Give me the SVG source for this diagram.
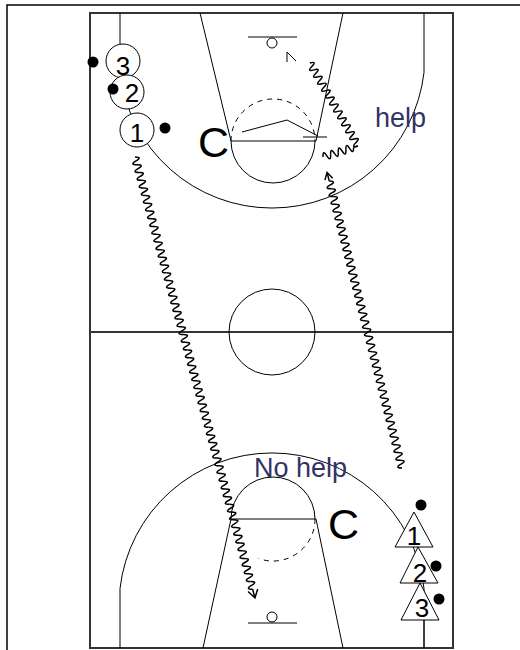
<svg xmlns="http://www.w3.org/2000/svg" width="520" height="650" viewBox="0 0 520 650">
<style>
.ln{fill:none;stroke:#000;stroke-width:1}
.bd{fill:none;stroke:#333;stroke-width:2}
.ds{fill:none;stroke:#000;stroke-width:1;stroke-dasharray:5 5}
.wv{fill:none;stroke:#000;stroke-width:1.5}
.pl{fill:#fff;stroke:#000;stroke-width:1}
.ball{fill:#000}
.num{font-family:"Liberation Sans",Arial,sans-serif;font-size:26px;fill:#000;text-anchor:middle}
.lbl{font-family:"Liberation Sans",Arial,sans-serif;font-size:27px;fill:#333366}
.c{font-family:"Liberation Sans",Arial,sans-serif;font-size:43px;fill:#000}
</style>
<defs>
<path id="w40" d="M0 0q2 -7.5 4 0t4 0t4 0t4 0t4 0t4 0t4 0t4 0t4 0t4 0"/>
<path id="w8" d="M0 0q2 -7.5 4 0t4 0"/>
</defs>
<rect width="520" height="650" fill="#fff"/>
<path d="M7 650V5H520" fill="none" stroke="#000" stroke-width="1.5"/>
<g id="court">
<rect class="bd" x="90" y="13" width="363" height="635"/>
<line class="bd" x1="90" y1="332" x2="453" y2="332"/>
<circle class="ln" cx="272" cy="332" r="43"/>
<path class="ln" d="M200 13L231 141M343 13L316 141M231 141H316"/>
<path class="ln" d="M231 141A42 42 0 0 0 315 141"/>
<path class="ds" d="M231 141A42 42 0 0 1 315 141"/>
<path class="ln" d="M120 13V72.5A153 153 0 0 0 424 72.5V13"/>
<path class="ln" d="M248 37H297"/>
<circle class="ln" cx="272" cy="43" r="5"/>
<path class="ln" d="M203 648L231 519M343 648L316 519M231 519H316"/>
<path class="ln" d="M231 519A42 42 0 0 1 315 519"/>
<path class="ds" d="M315 519A42 42 0 0 1 258.6 558.5"/>
<path class="ln" d="M120 648V588.5A153 153 0 0 1 424 588.5V648"/>
<path class="ln" d="M248 623H297"/>
<circle class="ln" cx="272" cy="617" r="5"/>
</g>
<g id="connectors">
<path class="ln" d="M242 132L287 120L318 136M303 137H327"/>
<g class="wv" transform="translate(135 157) rotate(74.78)">
<use href="#w40"/><use href="#w40" x="40"/><use href="#w40" x="80"/><use href="#w40" x="120"/><use href="#w40" x="160"/><use href="#w40" x="200"/><use href="#w40" x="240"/><use href="#w40" x="280"/><use href="#w40" x="320"/><use href="#w40" x="360"/><use href="#w40" x="400"/><use href="#w8" x="440"/>
<path d="M448 0H457M449 -5L457 0L449 5"/>
</g>
<g class="wv" transform="translate(402 468) rotate(-104.22)">
<use href="#w40"/><use href="#w40" x="40"/><use href="#w40" x="80"/><use href="#w40" x="120"/><use href="#w40" x="160"/><use href="#w40" x="200"/><use href="#w40" x="240"/><use href="#w8" x="280"/><use href="#w8" x="288"/>
<path d="M296 0H305M298 -4L305 0L298 4"/>
</g>
<g class="wv" transform="translate(323 157) rotate(-17.45)">
<use href="#w8"/><use href="#w8" x="8"/><use href="#w8" x="16"/><use href="#w8" x="24"/>
<path d="M32 0H36.7"/>
</g>
<g class="wv" transform="translate(358 146) rotate(-120.1)">
<use href="#w40"/><use href="#w40" x="40"/><use href="#w8" x="80"/><use href="#w8" x="88"/>
</g>
<path class="ln" d="M287 62L287 52L296 61"/>
</g>
<g id="o3"><circle class="pl" cx="123" cy="61" r="17"/><circle class="ball" cx="93" cy="62" r="5.5"/><text class="num" x="123" y="75">3</text></g>
<g id="o2"><circle class="pl" cx="127" cy="92" r="17"/><circle class="ball" cx="113" cy="89" r="5.5"/><text class="num" x="132" y="102">2</text></g>
<g id="o1"><circle class="pl" cx="137" cy="130" r="17"/><circle class="ball" cx="165" cy="128" r="5.5"/><text class="num" x="137" y="142">1</text></g>
<g id="coachTop"><text class="c" x="198" y="157">C</text></g>
<g id="coachBottom"><text class="c" x="328" y="539">C</text></g>
<g id="t3"><polygon class="pl" points="420,583 401,620 439,620"/><circle class="ball" cx="439" cy="599" r="5.5"/><text class="num" x="422" y="617">3</text></g>
<g id="t2"><polygon class="pl" points="418,547 400,583 438,583"/><circle class="ball" cx="436" cy="566" r="5.5"/><text class="num" x="420" y="582">2</text></g>
<g id="t1"><polygon class="pl" points="414,512 395,547 433,547"/><circle class="ball" cx="421" cy="505" r="5.5"/><text class="num" x="414" y="545">1</text></g>
<line class="ln" x1="424" y1="620" x2="424" y2="648"/>
<text class="lbl" x="375" y="127">help</text>
<text class="lbl" x="254" y="477">No help</text>
</svg>
